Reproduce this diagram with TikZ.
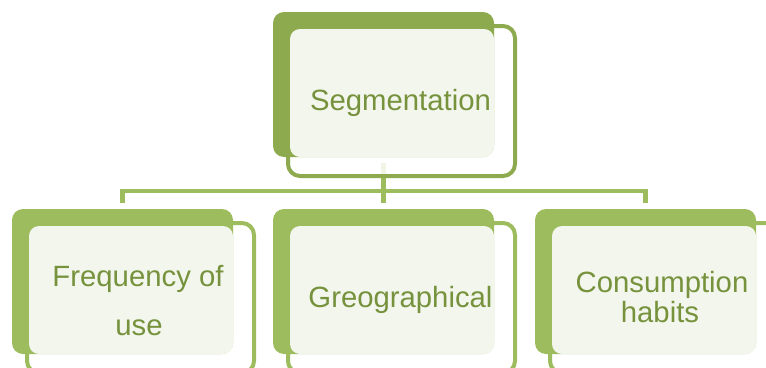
\documentclass[tikz,border=0pt]{standalone}
\usepackage{fontspec}
\setmainfont{Liberation Sans}
\definecolor{topgreen}{HTML}{8EAA4E}
\definecolor{botgreen}{HTML}{9DBC5D}
\definecolor{lightfill}{HTML}{F3F6EC}
\definecolor{txtgreen}{HTML}{76923C}
\begin{document}
\begin{tikzpicture}[x=1pt,y=-1pt,
  backbox/.style={rectangle, rounded corners=11pt, minimum width=221pt, minimum height=145pt, inner sep=0pt, outer sep=0pt, draw=none},
  framebox/.style={rectangle, rounded corners=12pt, minimum width=227pt, minimum height=150pt, inner sep=0pt, outer sep=0pt, line width=4pt, fill=white, fill opacity=0.85, draw opacity=1},
  facebox/.style={rectangle, rounded corners=10pt, minimum width=204pt, minimum height=128pt, inner sep=0pt, outer sep=0pt, fill=lightfill, draw=none},
  label/.style={font=\fontsize{29.3}{35}\selectfont, text=txtgreen, inner sep=0pt, anchor=base},
  conn/.style={draw=botgreen, line width=4.5pt, line join=miter}
]
\useasboundingbox (0,0) rectangle (766,367);
\clip (0,0) rectangle (766,367);
% coordinates of the bus
\coordinate (bus) at (0,191);
% invisible anchors for connectors (dark box centres)
\node[backbox] (top) at (383.5,84.5) {};
\node[backbox] (b1) at (122.5,281.5) {};
\node[backbox] (b2) at (383.5,281.5) {};
\node[backbox] (b3) at (645.5,281.5) {};
% connectors
\draw[conn, shorten <=6pt, shorten >=6pt] (top.south) -- (b2.north);
\draw[conn, shorten <=6pt, shorten >=6pt] (b1.north) -- (b1.north |- bus) -- (b3.north |- bus) -- (b3.north);
% top unit
\node[framebox, draw=topgreen] (topframe) at (401.5,101) {};
\node[backbox, fill=topgreen] (topback) at (383.5,84.5) {};
\node[facebox] (topface) at (392,93) {};
\node[label] (t0) at (400.5,110) {Segmentation};
% left unit
\node[framebox, draw=botgreen] (f1) at (140.5,298) {};
\node[backbox, fill=botgreen] (k1) at (122.5,281.5) {};
\node[facebox] (c1) at (131,290) {};
\node[label] (t1a) at (138,286) {Frequency of};
\node[label] (t1b) at (139,335) {use};
% middle unit
\node[framebox, draw=botgreen] (f2) at (401.5,298) {};
\node[backbox, fill=botgreen] (k2) at (383.5,281.5) {};
\node[facebox] (c2) at (392,290) {};
\node[label] (t2) at (400.5,307) {Greographical};
% right unit
\node[framebox, draw=botgreen] (f3) at (663.5,298) {};
\node[backbox, fill=botgreen] (k3) at (645.5,281.5) {};
\node[facebox] (c3) at (654,290) {};
\node[label] (t3a) at (662,292) {Consumption};
\node[label] (t3b) at (660,322) {habits};
\end{tikzpicture}
\end{document}
